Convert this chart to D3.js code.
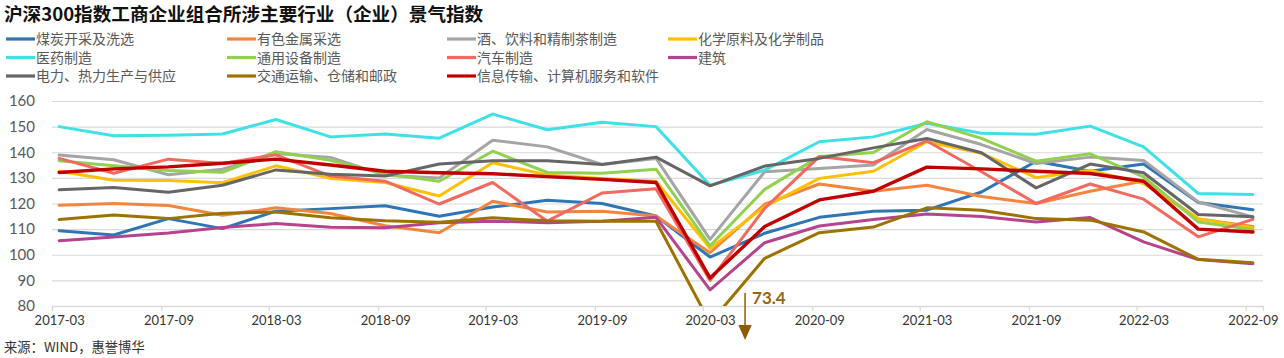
<!DOCTYPE html>
<html><head><meta charset="utf-8">
<script src="https://cdn.jsdelivr.net/npm/d3@7"></script>
<style>
html,body{margin:0;padding:0;background:#fff;}
svg{display:block;}
</style></head>
<body>
<svg id="chart" width="1284" height="358"></svg>
<script>
const title = "沪深300指数工商企业组合所涉主要行业（企业）景气指数";
const source = "来源：WIND，惠誉博华";
const quarters = ["2017-03","2017-06","2017-09","2017-12","2018-03","2018-06","2018-09","2018-12",
  "2019-03","2019-06","2019-09","2019-12","2020-03","2020-06","2020-09","2020-12",
  "2021-03","2021-06","2021-09","2021-12","2022-03","2022-06","2022-09"];
const xLabels = ["2017-03","2017-09","2018-03","2018-09","2019-03","2019-09","2020-03","2020-09","2021-03","2021-09","2022-03","2022-09"];
const yTicks = [80,90,100,110,120,130,140,150,160];

const seriesNames = ["煤炭开采及洗选","有色金属采选","酒、饮料和精制茶制造","化学原料及化学制品",
  "医药制造","通用设备制造","汽车制造","建筑",
  "电力、热力生产与供应","交通运输、仓储和邮政","信息传输、计算机服务和软件"];

const coal      = [109.4,107.7,114.1,110.2,117.0,118.0,119.1,115.0,118.6,121.3,120.0,115.1,99.1,108.4,114.6,117.0,117.4,124.5,136.5,132.6,135.4,120.4,117.6];
const metals    = [119.3,120.0,119.2,115.4,118.3,116.1,111.3,108.6,120.9,116.7,117.0,115.1,100.8,119.7,127.6,124.8,127.1,122.7,120.0,124.8,128.8,114.0,111.0];
const beverage  = [138.9,137.1,131.2,133.4,139.5,138.0,131.0,130.0,144.7,142.1,135.2,137.6,106.0,132.4,133.7,135.0,148.9,143.0,135.6,138.1,136.8,120.6,114.8];
const chemical  = [132.6,129.1,129.0,128.1,134.7,129.8,128.2,122.9,135.9,131.1,129.8,128.7,102.5,118.8,129.8,132.6,144.1,139.6,130.1,133.0,127.8,114.1,110.5];
const pharma    = [150.0,146.4,146.6,147.1,152.8,146.0,147.1,145.5,154.9,148.8,151.7,150.0,127.1,133.0,144.1,146.0,151.3,147.4,147.0,150.2,142.1,123.9,123.5];
const machinery = [136.7,134.7,132.9,132.2,140.2,136.9,131.5,128.7,140.4,132.1,131.8,133.4,103.5,125.5,138.3,139.9,151.9,145.4,136.5,139.4,130.4,112.8,109.8];
const auto      = [137.6,131.8,137.3,135.6,139.0,130.7,128.7,119.8,128.2,113.1,124.1,125.8,90.0,118.1,138.3,135.9,144.4,132.4,120.0,127.6,121.7,107.0,113.8];
const construct = [105.5,106.9,108.5,110.6,112.2,110.7,110.5,112.5,113.1,112.5,113.1,114.6,86.3,104.7,111.2,113.8,115.9,114.9,112.8,114.5,105.0,98.1,96.5];
const power     = [125.4,126.2,124.4,127.1,133.1,131.4,130.7,135.4,136.7,136.7,135.2,138.1,126.9,134.6,137.6,141.7,145.4,139.8,126.1,135.4,132.0,115.7,114.8];
const transport = [113.8,115.5,114.1,116.2,116.7,114.4,113.3,112.7,114.4,113.3,113.1,113.1,73.4,98.6,108.6,110.8,118.3,117.4,114.1,113.5,108.9,98.2,96.9];
const infotech  = [132.1,133.5,134.3,135.7,137.3,135.0,132.6,132.0,131.6,130.5,129.4,128.2,90.9,111.0,121.4,124.8,134.2,133.5,132.6,131.7,128.7,110.0,108.9];

const colors = ["#2E75B6","#F4853F","#A5A5A5","#FFC000","#3FE0E6","#92D050","#F06A5F","#B4448E","#666666","#9C7300","#C00000"];
const allValues = [coal,metals,beverage,chemical,pharma,machinery,auto,construct,power,transport,infotech];
const annotationValue = 73.4;
const annotationIndex = 12;

const svg = d3.select("#chart");
const cjk = "'Noto Sans CJK SC','Noto Sans',sans-serif";
const latin = "Lato,'Noto Sans',sans-serif";

const parseQ = s => { const [yy,mm] = s.split("-").map(Number); return new Date(yy, mm-1, 13); };
const parseM = s => { const [yy,mm] = s.split("-").map(Number); return new Date(yy, mm-1, 1); };

const x = d3.scaleTime().domain([new Date(2017,2,1), new Date(2022,8,30)]).range([52,1263]);
const y = d3.scaleLinear().domain([80,160]).range([306,101]);

// title
svg.append("text").attr("x",4).attr("y",21).text(title)
  .attr("font-family",cjk).attr("font-weight","bold").attr("font-size",18.6).attr("fill","#111");

// legend
const colX = [6,227,447,668], rowY = [39,57.5,76];
seriesNames.forEach((n,i)=>{
  const cx = colX[i%4], cy = rowY[Math.floor(i/4)];
  const g = svg.append("g");
  g.append("line").attr("x1",cx).attr("x2",cx+29).attr("y1",cy).attr("y2",cy)
    .attr("stroke",colors[i]).attr("stroke-width",3.2);
  g.append("text").attr("x",cx+30).attr("y",cy+5).text(n)
    .attr("font-family",cjk).attr("font-size",14).attr("fill","#595959");
});

// y axis + gridlines
const yAxis = svg.append("g").attr("transform","translate(52,0)")
  .call(d3.axisLeft(y).tickValues(yTicks).tickSize(-(1263-52)).tickPadding(17));
yAxis.select(".domain").remove();
yAxis.selectAll(".tick line").attr("stroke","#D9D9D9").attr("stroke-width",1.2);
yAxis.selectAll(".tick text").attr("font-family",latin).attr("font-size",15).attr("fill","#595959");

// x axis ticks
const xTickAxis = svg.append("g").attr("transform","translate(0,306)")
  .call(d3.axisBottom(x).tickValues(xLabels.map(parseM)).tickSize(5).tickFormat(""));
xTickAxis.select(".domain").attr("stroke","#D9D9D9").attr("stroke-width",1.3);
xTickAxis.selectAll(".tick line").attr("stroke","#D9D9D9").attr("stroke-width",1.2);

// x axis labels
const xLabelAxis = svg.append("g").attr("transform","translate(0,306)")
  .call(d3.axisBottom(x).tickValues(xLabels.map(parseQ)).tickSize(0).tickPadding(10)
    .tickFormat((d,i)=>xLabels[i]));
xLabelAxis.select(".domain").remove();
xLabelAxis.selectAll(".tick text").attr("font-family",latin).attr("font-size",13).attr("fill","#333");

// clip
svg.append("clipPath").attr("id","plotclip").append("rect")
  .attr("x",40).attr("y",95).attr("width",1240).attr("height",306-95);

const line = d3.line().x((d,i)=>x(parseQ(quarters[i]))).y(d=>y(d));
const lines = svg.append("g").attr("clip-path","url(#plotclip)");
allValues.forEach((vals,i)=>{
  lines.append("path").datum(vals).attr("d",line)
    .attr("fill","none").attr("stroke",colors[i])
    .attr("stroke-width", i===10 ? 3.4 : 3)
    .attr("stroke-linejoin","round").attr("stroke-linecap","round");
});

// annotation
const ax = x(parseQ(quarters[annotationIndex])) + 35;
const annColor = "#8E5C06";
svg.append("line").attr("x1",ax).attr("x2",ax).attr("y1",293).attr("y2",327)
  .attr("stroke",annColor).attr("stroke-width",1.5);
svg.append("path").attr("d",`M${ax-6.7},325 L${ax+6.7},325 L${ax},340 Z`).attr("fill",annColor);
svg.append("text").attr("x",ax+7).attr("y",303.5).text(annotationValue.toFixed(1))
  .attr("font-family",latin).attr("font-weight","bold").attr("font-size",17).attr("fill","#9A6510");

// source
svg.append("text").attr("x",4).attr("y",352).text(source)
  .attr("font-family",cjk).attr("font-size",13.3).attr("fill","#333");
</script>
</body></html>
